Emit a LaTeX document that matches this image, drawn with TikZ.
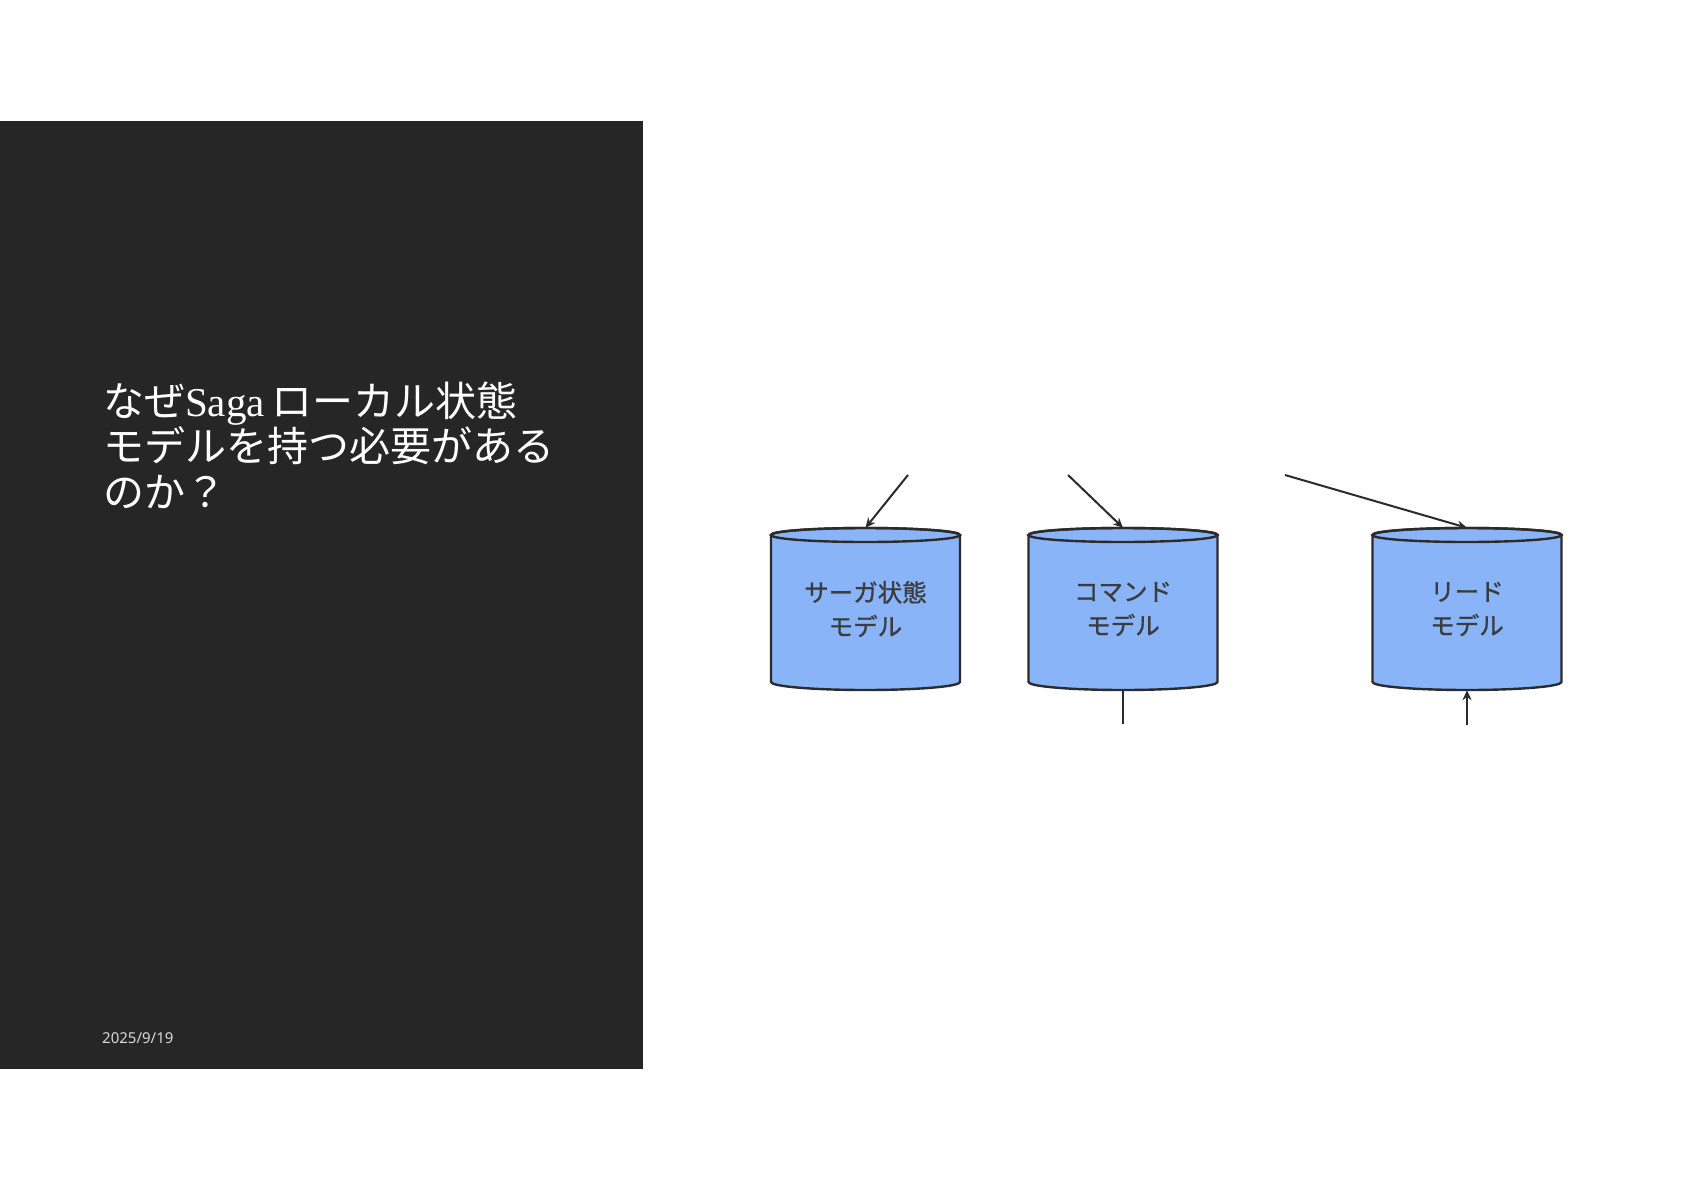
\documentclass[tikz,border=0pt]{standalone}
\usepackage{fontspec}
\newfontfamily\cjk{Noto Sans CJK JP}
\newfontfamily\cjkmed{Noto Sans CJK JP}[FakeBold=1]
\newfontfamily\serifsaga{Liberation Serif}
\newfontfamily\datefont{Noto Sans}
\usetikzlibrary{arrows.meta}
\definecolor{panelbg}{HTML}{262626}
\definecolor{cylblue}{HTML}{8AB4F8}
\definecolor{cylline}{HTML}{2B2B2B}
\definecolor{cyltext}{HTML}{3A3C40}
\definecolor{datecol}{HTML}{D9D9D9}
\tikzset{
  titleline/.style={anchor=base west, inner sep=0pt, text=white, font=\cjk\fontsize{41}{45.5}\selectfont},
  cyllabel/.style={minimum width=189pt, minimum height=162pt, inner sep=0pt, align=center, text=cyltext, font=\cjkmed\fontsize{24.5}{34}\selectfont},
  cylbody/.style={fill=cylblue, draw=cylline, line width=2.4pt, line join=round},
  flow/.style={draw=cylline, line width=2pt, -{Stealth[length=10pt,width=9pt]}},
  plainflow/.style={draw=cylline, line width=2pt}
}
\newcommand\dbcyl[1]{%
  \path[cylbody] ({#1-94.5},-535) -- ({#1-94.5},-682)
    arc[start angle=180,end angle=360,x radius=94.5pt,y radius=8pt]
    -- ({#1+94.5},-535)
    arc[start angle=0,end angle=180,x radius=94.5pt,y radius=7pt] -- cycle;
  \draw[cylline, line width=2.4pt] (#1,-535) ellipse[x radius=94.5pt,y radius=7pt];
}
\begin{document}
\begin{tikzpicture}[x=1pt,y=1pt]
\useasboundingbox (0,0) rectangle (1684,-1191);
\fill[white] (0,0) rectangle (1684,-1191);
\fill[panelbg] (0,-121) rectangle (643,-1069);
% title
\node[titleline] (t1) at (103,-416) {なぜ{\serifsaga Saga}\,ローカル状態};
\node[titleline] (t2) at (103,-461.5) {モデルを持つ必要がある};
\node[titleline] (t3) at (103,-507) {のか？};
\node[anchor=base west, inner sep=0pt, text=datecol, font=\datefont\fontsize{15}{18}\selectfont] (date) at (102,-1043) {2025/9/19};
% cylinders
\dbcyl{865.5}
\dbcyl{1123}
\dbcyl{1467}
\node[cyllabel] (saga) at (865.5,-609) {サーガ状態\\モデル};
\node[cyllabel] (cmd) at (1123,-609) {コマンド\\モデル};
\node[cyllabel] (read) at (1467,-609) {リード\\モデル};
% connectors
\coordinate (a1) at (908,-475);
\coordinate (a2) at (1068,-475);
\coordinate (a3) at (1285,-475);
\coordinate (b2) at (1123,-724);
\coordinate (b3) at (1467,-725);
\draw[flow] (a1) -- (saga.north);
\draw[flow] (a2) -- (cmd.north);
\draw[flow] (a3) -- (read.north);
\draw[plainflow] (cmd.south) -- (b2);
\draw[flow] (b3) -- (read.south);
\end{tikzpicture}
\end{document}
